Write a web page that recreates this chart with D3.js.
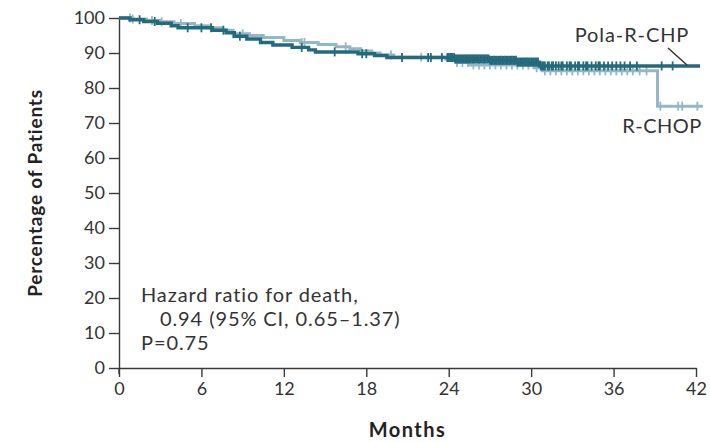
<!DOCTYPE html>
<html><head><meta charset="utf-8">
<script src="https://cdn.jsdelivr.net/npm/d3@7"></script>
<style>body{margin:0;background:#fff}svg{display:block}</style>
</head><body><svg id="c" width="710" height="442"></svg>
<script>
// ---- data ----
const xTicks = [0, 6, 12, 18, 24, 30, 36, 42];
const yTicks = [0, 10, 20, 30, 40, 50, 60, 70, 80, 90, 100];
const seriesNames = ["Pola-R-CHP", "R-CHOP"];
// step curves: [month, percent surviving]
const polaSteps = [[0,100],[0.8,99.5],[1.8,99],[2.8,98.5],[3.8,97.8],[4.3,97.2],[6.8,96.5],[7.8,95.8],[8.4,94.8],[9.3,94],[10.3,93],[11.2,92.3],[12.6,91.6],[13.8,90.9],[14.3,90.3],[17.4,89.8],[18.6,89.3],[19.5,88.7],[24.5,88.3],[27,87.9],[29,87.4],[30.6,86.3],[42.3,86.3]];
const rchopSteps = [[0,100],[1,99.7],[2,99.3],[3,98.9],[4,98.4],[5.5,97.8],[6.5,97.2],[7.5,96.5],[8.3,95.5],[9.5,95],[10.5,94.4],[12,93.6],[13.2,93],[14.5,92.4],[15.8,91.8],[16.8,91.2],[17.6,90.6],[18.4,90],[19,89.4],[20,88.8],[23.8,88.3],[24.5,87.3],[25.5,86.6],[30.2,85.8],[30.8,84.9],[39.2,74.8],[42.5,74.8]];
// censor marks (months)
const polaCensor = [1.5,2.6,5.0,6.0,6.7,7.6,8.8,13.3,15.7,17.7,18.0,20.6,22.5,22.7,23.5,
  23.9,24.0,24.1,24.2,24.3,24.4,24.5,24.6,24.7,24.8,24.9,25.0,25.1,25.2,25.3,25.4,25.5,25.6,25.7,25.8,25.9,26.0,26.1,26.2,26.3,26.4,26.5,26.6,26.7,26.8,26.9,27.0,
  27.1,27.2,27.3,27.4,27.5,27.6,27.7,27.8,27.9,28.0,28.1,28.2,28.3,28.4,28.5,28.6,28.7,28.8,28.9,29.0,29.1,29.2,29.3,29.4,29.5,29.6,29.7,29.8,29.9,30.0,30.1,30.2,30.3,30.4,30.5,
  30.7,30.8,30.9,31.0,31.2,31.3,31.5,31.6,31.8,32.0,32.2,32.3,32.6,32.8,32.9,33.2,33.4,33.5,33.8,34.0,34.1,34.4,34.7,34.9,35.0,35.3,35.6,35.9,36.2,36.5,36.8,37.2,37.7,39.5,40.3];
const rchopCensor = [0.8,1.0,2.4,3.1,4.5,8.3,9.0,13.3,13.5,16.5,19.8,22.0,24.6,25.0,25.4,25.8,26.2,26.6,27.0,27.4,27.8,28.2,28.6,29.0,29.4,29.8,30.4,31.0,31.4,31.8,32.2,32.6,33.0,33.4,33.8,34.2,34.6,35.0,35.4,35.8,36.2,36.6,37.0,37.4,37.9,38.4,39.4,40.7,41.0,42.1];
const annotation = ["Hazard ratio for death,", "0.94 (95% CI, 0.65\u20131.37)", "P=0.75"];

// ---- drawing ----
const svg = d3.select("#c");
const font = "Lato, 'Open Sans', sans-serif";
const axisColor = "#3a3a3a";
const darkCol = "#246A7D", lightCol = "#94B7C6";
const x = d3.scaleLinear().domain([0, 42]).range([119, 696]);
const y = d3.scaleLinear().domain([0, 100]).range([368, 18]);

function survAt(steps, t) {
  let s = steps[0][1];
  for (const p of steps) { if (p[0] <= t) s = p[1]; else break; }
  return s;
}

// axes
const xAxis = svg.append("g").attr("transform", `translate(0,${y(0)})`)
  .call(d3.axisBottom(x).tickValues(xTicks).tickSize(9).tickPadding(5).tickSizeOuter(0));
const yAxis = svg.append("g").attr("transform", `translate(${x(0)},0)`)
  .call(d3.axisLeft(y).tickValues(yTicks).tickSize(10).tickPadding(4).tickSizeOuter(0));
[xAxis, yAxis].forEach(g => {
  g.select(".domain").attr("stroke", axisColor).attr("stroke-width", 1.4);
  g.selectAll(".tick line").attr("stroke", axisColor).attr("stroke-width", 1.4);
  g.selectAll(".tick text").attr("fill", "#333").style("font-family", font).style("font-size", "18px");
});
// extend y axis slightly below zero
svg.append("line").attr("x1", x(0)).attr("x2", x(0)).attr("y1", y(0)).attr("y2", y(0) + 6)
  .attr("stroke", axisColor).attr("stroke-width", 1.4);

// axis titles
svg.append("text").attr("transform", `translate(42,${(y(0)+y(100))/2 + 0}) rotate(-90)`)
  .attr("text-anchor", "middle").attr("fill", "#222").style("font-family", font)
  .style("font-size", "19px").style("font-weight", "bold").style("letter-spacing", "0.8px").text("Percentage of Patients");
svg.append("text").attr("x", (x(0)+x(42))/2).attr("y", 437).attr("text-anchor", "middle")
  .attr("fill", "#222").style("font-family", font).style("font-size", "20px").style("font-weight", "bold")
  .style("letter-spacing", "1.5px").text("Months");

// curves
const line = d3.line().x(d => x(d[0])).y(d => y(d[1])).curve(d3.curveStepAfter);
function drawSeries(steps, censor, col, w, h) {
  svg.append("path").datum(steps).attr("d", line).attr("fill", "none")
    .attr("stroke", col).attr("stroke-width", w);
  svg.append("g").selectAll("line").data(censor).join("line")
    .attr("x1", d => x(d)).attr("x2", d => x(d))
    .attr("y1", d => y(survAt(steps, d)) - h).attr("y2", d => y(survAt(steps, d)) + h)
    .attr("stroke", col).attr("stroke-width", 1.8);
}
drawSeries(rchopSteps, rchopCensor, lightCol, 3, 4.5);
drawSeries(polaSteps, polaCensor, darkCol, 3.4, 4.5);

// labels
svg.append("text").attr("x", 632).attr("y", 42).attr("text-anchor", "middle").attr("fill", "#333")
  .style("font-family", font).style("font-size", "20px").style("letter-spacing", "0.9px").text(seriesNames[0]);
svg.append("line").attr("x1", 668).attr("y1", 48).attr("x2", 687).attr("y2", 65)
  .attr("stroke", "#333").attr("stroke-width", 1.5);
svg.append("text").attr("x", 662).attr("y", 133).attr("text-anchor", "middle").attr("fill", "#333")
  .style("font-family", font).style("font-size", "20px").style("letter-spacing", "0.5px").text(seriesNames[1]);

// annotation
const ann = svg.append("text").attr("fill", "#333").style("font-family", font).style("font-size", "20px")
  .style("letter-spacing", "0.9px");
ann.append("tspan").attr("x", 141).attr("y", 302).text(annotation[0]);
ann.append("tspan").attr("x", 160).attr("y", 326).text(annotation[1]);
ann.append("tspan").attr("x", 141).attr("y", 350).text(annotation[2]);
</script></body></html>
